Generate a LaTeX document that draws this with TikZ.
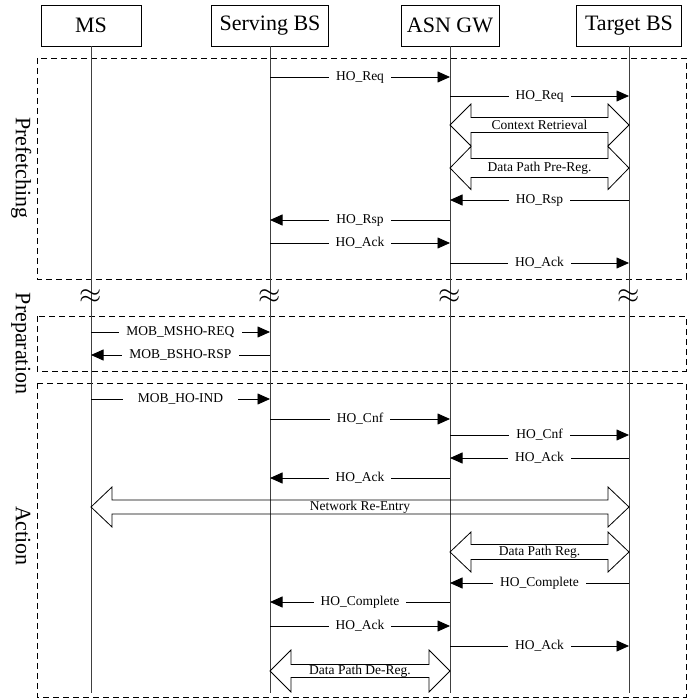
\documentclass[tikz,border=0pt]{standalone}
\usepackage{fontspec}
\setmainfont{Liberation Serif}
\usetikzlibrary{arrows.meta,calc}
\newcommand{\msgline}[5]{\draw[msg] (#1 |- 0,#3) -- (#2 |- 0,#3) node[lbl,midway] (#4) {#5};}
\newcommand{\blockarrow}[7]{% from, to, y, H, h, name, label
  \draw[blk] (#1 |- 0,#3) -- ++(21,-#4) -- ++(0,#4-#5) -- ($(#2 |- 0,#3)+(-21,-#5)$)
    -- ++(0,#5-#4) -- (#2 |- 0,#3) -- ++(-21,#4) -- ++(0,#5-#4)
    -- ($(#1 |- 0,#3)+(21,#5)$) -- ++(0,#4-#5) -- cycle;
  \node[blklbl] (#6) at ($(#1 |- 0,#3)!0.5!(#2 |- 0,#3)$) {#7};}
\begin{document}
\begin{tikzpicture}[x=1pt,y=-1pt,
  hdr/.style={draw, line width=0.9pt, minimum height=41pt, inner sep=0pt, font=\fontsize{22}{24}\selectfont},
  life/.style={line width=0.9pt, black!75},
  msg/.style={line width=0.8pt, -{Triangle[length=12.5pt,width=11pt]}},
  lbl/.style={fill=white, inner xsep=7pt, inner ysep=0.5pt, font=\fontsize{13.5}{14}\selectfont},
  phase/.style={draw, dash pattern=on 6pt off 4pt, line width=0.8pt},
  phlbl/.style={rotate=-90, anchor=base, inner sep=0pt, font=\fontsize{22}{24}\selectfont},
  blk/.style={draw, line width=0.8pt},
  blklbl/.style={font=\fontsize{13.5}{14}\selectfont, inner sep=0pt},
  brk/.style={font=\Huge, scale=1.15, inner sep=0pt}
]
\useasboundingbox (0,0) rectangle (699,698);

% headers
\node[hdr, minimum width=100pt] (ms)  at (91,25.5)  {MS};
\node[hdr, minimum width=117pt] (srv) at (270,25.5) {Serving BS};
\node[hdr, minimum width=98pt]  (asn) at (450,25.5) {ASN GW};
\node[hdr, minimum width=105pt] (tgt) at (629,25.5) {Target BS};

% phase boxes
\draw[phase] (37,58) rectangle (686,279);
\draw[phase] (37,316) rectangle (686,371);
\draw[phase] (37,383) rectangle (686,697);

\node[phlbl] (pf) at (16,168) {Prefetching};
\node[phlbl] (pp) at (16,343.5) {Preparation};
\node[phlbl] (ac) at (16,536) {Action};

% lifelines
\foreach \n in {ms,srv,asn,tgt}{\draw[life] (\n.south) -- (\n |- 0,693);}

% break marks
\node[brk] (b1) at (ms |- 0,297)  {$\approx$};
\node[brk] (b2) at (srv |- 0,297) {$\approx$};
\node[brk] (b3) at (asn |- 0,297) {$\approx$};
\node[brk] (b4) at (tgt |- 0,297) {$\approx$};

% prefetching
\msgline{srv}{asn}{77}{m1}{HO\_Req}
\msgline{asn}{tgt}{96}{m2}{HO\_Req}
\blockarrow{asn}{tgt}{125}{21}{7.5}{d1}{Context Retrieval}
\blockarrow{asn}{tgt}{168}{21.5}{9.5}{d2}{Data Path Pre-Reg.}
\msgline{tgt}{asn}{200}{m3}{HO\_Rsp}
\msgline{asn}{srv}{220}{m4}{HO\_Rsp}
\msgline{srv}{asn}{243}{m5}{HO\_Ack}
\msgline{asn}{tgt}{263}{m6}{HO\_Ack}

% preparation
\msgline{ms}{srv}{332}{m7}{MOB\_MSHO-REQ}
\msgline{srv}{ms}{355}{m8}{MOB\_BSHO-RSP}

% action
\draw[msg] (ms |- 0,399) -- (srv |- 0,399) node[lbl,midway,inner xsep=15pt] (m9) {MOB\_HO-IND};
\msgline{srv}{asn}{419}{m10}{HO\_Cnf}
\msgline{asn}{tgt}{435}{m11}{HO\_Cnf}
\msgline{tgt}{asn}{458}{m12}{HO\_Ack}
\msgline{asn}{srv}{478}{m13}{HO\_Ack}
\blockarrow{ms}{tgt}{507}{20}{7}{d3}{Network Re-Entry}
\blockarrow{asn}{tgt}{552}{20}{7.5}{d4}{Data Path Reg.}
\msgline{tgt}{asn}{583}{m14}{HO\_Complete}
\msgline{asn}{srv}{602}{m15}{HO\_Complete}
\msgline{srv}{asn}{626}{m16}{HO\_Ack}
\msgline{asn}{tgt}{646}{m17}{HO\_Ack}
\blockarrow{srv}{asn}{671}{21}{6.5}{d5}{Data Path De-Reg.}
\end{tikzpicture}
\end{document}
